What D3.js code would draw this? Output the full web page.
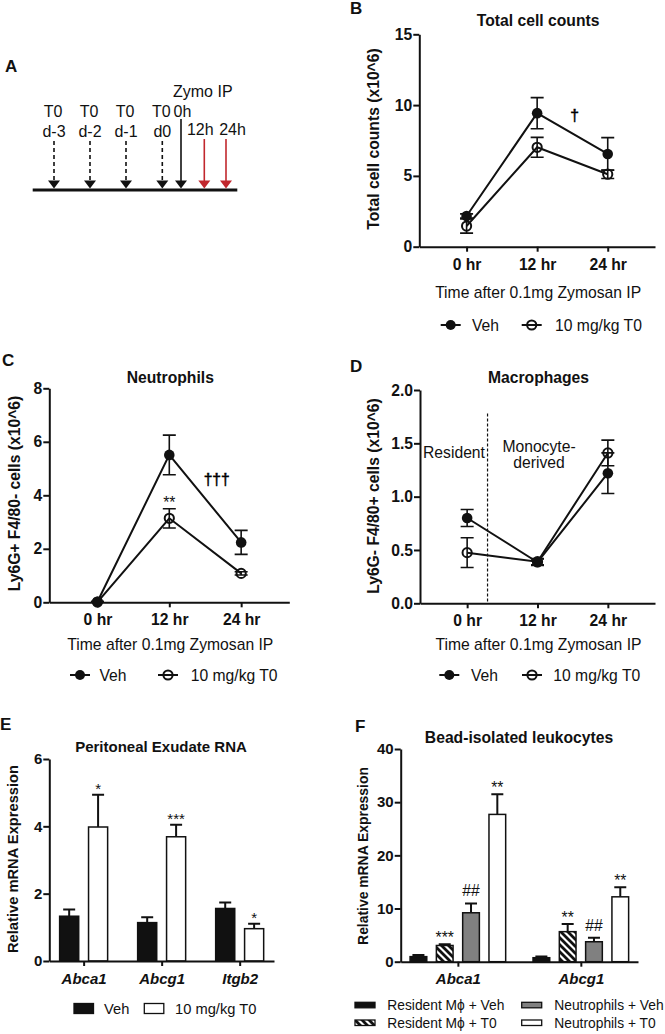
<!DOCTYPE html>
<html><head><meta charset="utf-8">
<script src="https://cdn.jsdelivr.net/npm/d3@7"></script>
<style>
body{margin:0;background:#fff}
svg{display:block}
text{font-family:"Liberation Sans",Arial,Helvetica,sans-serif;fill:#111}
</style>
</head><body>
<svg id="c" width="665" height="1034"></svg>
<script>
// ---------------- DATA ----------------
const timepoints = ["0 hr", "12 hr", "24 hr"];
const lineSeries = ["Veh", "10 mg/kg T0"];

// Panel B: total cell counts (x10^6)
const totalVeh = [2.17, 9.43, 6.55];
const totalVehErr = [0.15, 1.1, 1.15];
const totalT0 = [1.46, 7.02, 5.12];
const totalT0Err = [0.5, 0.7, 0.3];
const totalTicks = [0, 5, 10, 15];

// Panel C: neutrophils
const neutVeh = [0.02, 5.51, 2.24];
const neutVehErr = [0.02, 0.74, 0.45];
const neutT0 = [0.01, 3.14, 1.08];
const neutT0Err = [0.01, 0.36, 0.06];
const neutTicks = [0, 2, 4, 6, 8];

// Panel D: macrophages
const macVeh = [0.80, 0.385, 1.22];
const macVehErr = [0.08, 0.03, 0.19];
const macT0 = [0.475, 0.39, 1.41];
const macT0Err = [0.14, 0.03, 0.12];
const macTicks = [0, 0.5, 1.0, 1.5, 2.0];

// Panel E: peritoneal exudate RNA
const genesE = ["Abca1", "Abcg1", "Itgb2"];
const seriesE = ["Veh", "10 mg/kg T0"];
const exVeh = [1.33, 1.14, 1.56];
const exVehErr = [0.20, 0.16, 0.18];
const exT0 = [3.98, 3.69, 0.96];
const exT0Err = [0.96, 0.36, 0.15];
const exSigT0 = ["*", "***", "*"];
const exTicks = [0, 2, 4, 6];

// Panel F: bead-isolated leukocytes
const genesF = ["Abca1", "Abcg1"];
const seriesF = ["Resident M\u03d5 + Veh", "Resident M\u03d5 + T0", "Neutrophils + Veh", "Neutrophils + T0"];
const beadResVeh = [0.95, 0.75];
const beadResVehErr = [0.3, 0.25];
const beadResT0 = [3.05, 5.65];
const beadResT0Err = [0.25, 1.45];
const beadNeuVeh = [9.2, 3.75];
const beadNeuVehErr = [1.75, 0.75];
const beadNeuT0 = [27.7, 12.2];
const beadNeuT0Err = [3.8, 1.8];
const beadSig = [["", "***", "##", "**"], ["", "**", "##", "**"]];
const beadTicks = [0, 10, 20, 30, 40];

// Panel A timeline
const doseDays = ["d-3", "d-2", "d-1", "d0"];
const harvestTimes = ["12h", "24h"];

// ---------------- DRAW ----------------
const svg = d3.select("#c");
const FS = 15.7;
const RED = "#c1272d";

function txt(g, x, y, s, o = {}) {
  const t = g.append("text").attr("x", x).attr("y", y).text(s)
    .attr("font-size", o.size || FS)
    .attr("font-weight", o.bold ? "bold" : "normal")
    .attr("text-anchor", o.anchor || "start");
  if (o.italic) t.attr("font-style", "italic");
  if (o.rotate) t.attr("transform", `rotate(-90,${x},${y})`);
  return t;
}

function styleAxis(g, size) {
  g.selectAll(".domain").attr("stroke", "#111").attr("stroke-width", 2);
  g.selectAll(".tick line").attr("stroke", "#111").attr("stroke-width", 2);
  g.selectAll(".tick text").attr("font-size", size || FS).attr("font-weight", "bold")
    .attr("font-family", '"Liberation Sans",Arial,sans-serif').attr("fill", "#111");
}

// ---------- Panel A ----------
(function () {
  const g = svg.append("g");
  const fa = 16;
  txt(g, 5, 71.5, "A", { bold: true, size: 17 });
  const xs = d3.scaleOrdinal().domain(doseDays).range([54, 90, 126, 162.3]);
  const base = 190;
  g.append("line").attr("x1", 32.7).attr("x2", 237.3).attr("y1", base).attr("y2", base)
    .attr("stroke", "#111").attr("stroke-width", 3);
  function head(x, color) {
    g.append("path").attr("d", `M${x - 6},${base - 9.5}L${x + 6},${base - 9.5}L${x},${base - 1.5}Z`).attr("fill", color);
  }
  doseDays.forEach(d => {
    const x = xs(d);
    g.append("line").attr("x1", x).attr("x2", x).attr("y1", 141).attr("y2", base - 9)
      .attr("stroke", "#111").attr("stroke-width", 1.6).attr("stroke-dasharray", "4,3");
    head(x, "#111");
    txt(g, x - 1, 117, "T0", { anchor: "middle", size: fa });
    txt(g, x, 136.5, d, { anchor: "middle", size: fa });
  });
  // injection at 0h
  const x0 = 181;
  g.append("line").attr("x1", x0).attr("x2", x0).attr("y1", 119).attr("y2", base - 9)
    .attr("stroke", "#111").attr("stroke-width", 1.6);
  head(x0, "#111");
  txt(g, 173, 96.5, "Zymo IP", { size: fa });
  txt(g, 173.5, 117, "0h", { size: fa });
  const hx = d3.scaleOrdinal().domain(harvestTimes).range([204.3, 226]);
  const lx = d3.scaleOrdinal().domain(harvestTimes).range([200.3, 232.5]);
  harvestTimes.forEach(h => {
    const x = hx(h);
    g.append("line").attr("x1", x).attr("x2", x).attr("y1", 139).attr("y2", base - 9)
      .attr("stroke", RED).attr("stroke-width", 1.6);
    head(x, RED);
    txt(g, lx(h), 135, h, { anchor: "middle", size: fa });
  });
})();

// ---------- Line panels ----------
function linePanel(cfg) {
  const g = svg.append("g");
  const x = d3.scalePoint().domain(timepoints).range([cfg.x0, cfg.x1]).padding(0.67);
  const y = d3.scaleLinear().domain([0, cfg.ymax]).range([cfg.y0, cfg.y1]);
  txt(g, cfg.letter[1], cfg.letter[2], cfg.letter[0], { bold: true, size: 17 });
  txt(g, (cfg.x0 + cfg.x1) / 2 + 1, cfg.titleY, cfg.title, { bold: true, anchor: "middle" });

  if (cfg.extra) cfg.extra(g, x, y);

  const ya = g.append("g").attr("transform", `translate(${cfg.x0},0)`)
    .call(d3.axisLeft(y).tickValues(cfg.ticks).tickSize(6).tickPadding(1).tickSizeOuter(0).tickFormat(cfg.fmt || d3.format("d")));
  styleAxis(ya);
  const xa = g.append("g").attr("transform", `translate(0,${cfg.y0})`)
    .call(d3.axisBottom(x).tickSize(5).tickPadding(7).tickSizeOuter(0));
  styleAxis(xa);
  txt(g, cfg.ylabX, cfg.ylabY, cfg.ylab, { bold: true, anchor: "middle", rotate: true });
  txt(g, (cfg.x0 + cfg.x1) / 2 + 1, cfg.xtitleY, "Time after 0.1mg Zymosan IP", { anchor: "middle" });

  const sers = [
    { v: cfg.veh, e: cfg.vehErr, open: false },
    { v: cfg.t0, e: cfg.t0Err, open: true }
  ];
  const line = d3.line().x((d, i) => x(timepoints[i])).y(d => y(d));
  sers.forEach(s => {
    g.append("path").attr("d", line(s.v)).attr("fill", "none").attr("stroke", "#111").attr("stroke-width", 2);
  });
  sers.forEach(s => {
    s.v.forEach((v, i) => {
      const cx = x(timepoints[i]);
      const lo = y(v - s.e[i]), hi = y(v + s.e[i]);
      g.append("path").attr("d", `M${cx},${lo}V${hi}M${cx - 6.5},${lo}H${cx + 6.5}M${cx - 6.5},${hi}H${cx + 6.5}`)
        .attr("stroke", "#111").attr("stroke-width", 1.6).attr("fill", "none");
    });
  });
  sers.forEach(s => {
    s.v.forEach((v, i) => {
      g.append("circle").attr("cx", x(timepoints[i])).attr("cy", y(v)).attr("r", s.open ? 4.6 : 5.3)
        .attr("fill", s.open ? "none" : "#111").attr("stroke", "#111").attr("stroke-width", s.open ? 2 : 0);
    });
  });
  (cfg.sig || []).forEach(a => {
    const xa0 = x(timepoints[a.i0]), xa1 = x(timepoints[a.i1]);
    const t = txt(g, xa0 + (xa1 - xa0) * a.f, y(a.v), a.s, { anchor: "middle" });
    if (a.s.indexOf("\u2020") >= 0) t.style("fill", "#000").attr("stroke", "#000").attr("stroke-width", 0.5);
  });
  // legend
  const L = cfg.legend;
  [0, 1].forEach(k => {
    const mx = L.m[k], ly = L.y;
    g.append("line").attr("x1", mx - 10).attr("x2", mx + 10).attr("y1", ly).attr("y2", ly)
      .attr("stroke", "#111").attr("stroke-width", 2);
    g.append("circle").attr("cx", mx).attr("cy", ly).attr("r", k ? 4.6 : 5)
      .attr("fill", k ? "none" : "#111").attr("stroke", "#111").attr("stroke-width", k ? 2 : 0);
    txt(g, L.t[k], ly + 5.5, lineSeries[k]);
  });
  return g;
}

linePanel({
  letter: ["B", 350, 14], title: "Total cell counts", titleY: 26,
  x0: 419.3, x1: 655, y0: 246.7, y1: 34.3, ymax: 15, ticks: totalTicks,
  ylab: "Total cell counts (x10^6)", ylabX: 379, ylabY: 139, xtitleY: 297.5,
  veh: totalVeh, vehErr: totalVehErr, t0: totalT0, t0Err: totalT0Err,
  sig: [{ i0: 1, i1: 2, f: 0.53, v: 8.85, s: "\u2020" }],
  legend: { y: 325, m: [450.7, 531.7], t: [472, 555] }
});

linePanel({
  letter: ["C", 2, 366], title: "Neutrophils", titleY: 383,
  x0: 49.3, x1: 289.3, y0: 602.3, y1: 388.3, ymax: 8, ticks: neutTicks,
  ylab: "Ly6G+ F4/80- cells  (x10^6)", ylabX: 19.5, ylabY: 493.5, xtitleY: 650,
  veh: neutVeh, vehErr: neutVehErr, t0: neutT0, t0Err: neutT0Err,
  sig: [{ i0: 1, i1: 1, f: 0, v: 3.53, s: "**" }, { i0: 1, i1: 2, f: 0.66, v: 4.38, s: "\u2020\u2020\u2020" }],
  legend: { y: 675, m: [80, 168], t: [99.5, 190.7] }
});

linePanel({
  letter: ["D", 350, 371.5], title: "Macrophages", titleY: 383,
  x0: 420, x1: 655, y0: 603.3, y1: 390, ymax: 2, ticks: macTicks, fmt: d3.format(".1f"),
  ylab: "Ly6G- F4/80+ cells (x10^6)", ylabX: 378.5, ylabY: 496, xtitleY: 649.5,
  veh: macVeh, vehErr: macVehErr, t0: macT0, t0Err: macT0Err,
  legend: { y: 675, m: [449.3, 532], t: [471, 553.3] },
  extra: (g, x, y) => {
    const dx = x("0 hr") + (x("12 hr") - x("0 hr")) * 0.29;
    g.append("line").attr("x1", dx).attr("x2", dx).attr("y1", y(1.78)).attr("y2", y(0))
      .attr("stroke", "#111").attr("stroke-width", 1.2).attr("stroke-dasharray", "3,2");
    txt(g, 454, 457.5, "Resident", { anchor: "middle" });
    txt(g, 539, 451.5, "Monocyte-", { anchor: "middle" });
    txt(g, 539, 467.5, "derived", { anchor: "middle" });
  }
});

// ---------- Panel E ----------
(function () {
  const g = svg.append("g");
  const fe = 15;
  const x0 = 49.3, x1 = 274, yb = 961, yt = 759;
  const x = d3.scalePoint().domain(genesE).range([x0, x1]).padding(0.44);
  const xi = d3.scaleBand().domain(seriesE).range([-24, 24]).paddingInner(0.34);
  const y = d3.scaleLinear().domain([0, 6]).range([yb, yt]);
  txt(g, 0, 730, "E", { bold: true, size: 17 });
  txt(g, 161, 751.5, "Peritoneal Exudate RNA", { bold: true, anchor: "middle", size: fe });
  const vals = [exVeh, exT0], errs = [exVehErr, exT0Err];
  seriesE.forEach((s, k) => {
    genesE.forEach((gn, i) => {
      const bx = x(gn) + xi(s), v = vals[k][i], e = errs[k][i];
      const cx = bx + xi.bandwidth() / 2;
      g.append("path").attr("d", `M${cx},${y(v)}V${y(v + e)}M${cx - 6},${y(v + e)}H${cx + 6}`)
        .attr("stroke", "#111").attr("stroke-width", 2).attr("fill", "none");
      g.append("rect").attr("x", bx).attr("width", xi.bandwidth()).attr("y", y(v)).attr("height", y(0) - y(v))
        .attr("fill", k ? "#fff" : "#111").attr("stroke", "#111").attr("stroke-width", 1.5);
      if (k === 1 && exSigT0[i]) txt(g, cx, y(v + e) - 1, exSigT0[i], { anchor: "middle", size: fe });
    });
  });
  const ya = g.append("g").attr("transform", `translate(${x0},0)`)
    .call(d3.axisLeft(y).tickValues(exTicks).tickSize(6).tickPadding(1).tickSizeOuter(0).tickFormat(d3.format("d")));
  styleAxis(ya, fe);
  const xa = g.append("g").attr("transform", `translate(0,${yb})`)
    .call(d3.axisBottom(x).tickSize(5).tickPadding(7).tickSizeOuter(0));
  styleAxis(xa, fe);
  xa.selectAll(".tick text").attr("font-style", "italic");
  txt(g, 17.5, 859, "Relative mRNA Expression", { bold: true, anchor: "middle", rotate: true, size: 14.7 });
  // legend
  const lx = [74, 144.3], tx = [104, 175];
  seriesE.forEach((s, k) => {
    g.append("rect").attr("x", lx[k]).attr("y", 1003.5).attr("width", 19.5).attr("height", 10)
      .attr("fill", k ? "#fff" : "#111").attr("stroke", "#111").attr("stroke-width", 1.3);
    txt(g, tx[k], 1013.5, s, { size: 14.7 });
  });
})();

// ---------- Panel F ----------
(function () {
  const g = svg.append("g");
  const defs = svg.append("defs");
  const pat = defs.append("pattern").attr("id", "hatch").attr("patternUnits", "userSpaceOnUse")
    .attr("width", 7).attr("height", 7);
  pat.append("rect").attr("width", 7).attr("height", 7).attr("fill", "#fff");
  pat.append("path").attr("d", "M-1,-1L8,8M-4.5,2.5L2.5,9.5M2.5,-4.5L9.5,2.5")
    .attr("stroke", "#111").attr("stroke-width", 2.8);
  const x0 = 400.7, x1 = 638, yb = 961.7, yt = 749;
  const x = d3.scalePoint().domain(genesF).range([x0, x1]).padding(0.465);
  const xi = d3.scaleBand().domain(seriesF).range([-47.8, 47.8]).paddingInner(0.365);
  const y = d3.scaleLinear().domain([0, 40]).range([yb, yt]);
  txt(g, 355, 731.5, "F", { bold: true, size: 17 });
  txt(g, 519, 742.5, "Bead-isolated leukocytes", { bold: true, anchor: "middle" });
  const vals = [beadResVeh, beadResT0, beadNeuVeh, beadNeuT0];
  const errs = [beadResVehErr, beadResT0Err, beadNeuVehErr, beadNeuT0Err];
  const fills = ["#111", "url(#hatch)", "#808080", "#fff"];
  seriesF.forEach((s, k) => {
    genesF.forEach((gn, i) => {
      const bx = x(gn) + xi(s), v = vals[k][i], e = errs[k][i];
      const cx = bx + xi.bandwidth() / 2;
      g.append("path").attr("d", `M${cx},${y(v)}V${y(v + e)}M${cx - 6},${y(v + e)}H${cx + 6}`)
        .attr("stroke", "#111").attr("stroke-width", 2).attr("fill", "none");
      g.append("rect").attr("x", bx).attr("width", xi.bandwidth()).attr("y", y(v)).attr("height", y(0) - y(v))
        .attr("fill", fills[k]).attr("stroke", "#111").attr("stroke-width", 1.5);
      const sg = beadSig[i][k];
      if (sg) txt(g, cx, y(v + e) - (sg[0] === "#" ? 7 : 1), sg, { anchor: "middle" });
    });
  });
  const ya = g.append("g").attr("transform", `translate(${x0},0)`)
    .call(d3.axisLeft(y).tickValues(beadTicks).tickSize(6).tickPadding(1).tickSizeOuter(0).tickFormat(d3.format("d")));
  styleAxis(ya, 15);
  const xa = g.append("g").attr("transform", `translate(0,${yb})`)
    .call(d3.axisBottom(x).tickSize(5).tickPadding(7).tickSizeOuter(0));
  styleAxis(xa, 15);
  xa.selectAll(".tick text").attr("font-style", "italic");
  txt(g, 367.5, 856, "Relative mRNA Expression", { bold: true, anchor: "middle", rotate: true, size: 13.9 });
  // legend 2x2
  const sx = [355, 355, 521.7, 521.7], sy = [1002.3, 1020, 1002.3, 1020];
  const tx = [387.3, 387.3, 554.3, 554.3], ty = [1010, 1027.7, 1010, 1027.7];
  seriesF.forEach((s, k) => {
    g.append("rect").attr("x", sx[k]).attr("y", sy[k]).attr("width", 20).attr("height", 5.5)
      .attr("fill", fills[k]).attr("stroke", "#111").attr("stroke-width", 1.3);
    txt(g, tx[k], ty[k], s, { size: 13.8 });
  });
})();
</script>
</body></html>
